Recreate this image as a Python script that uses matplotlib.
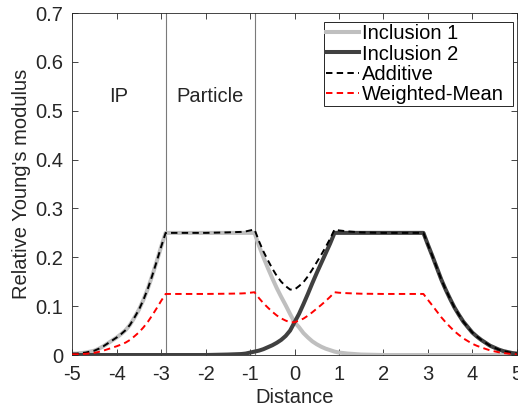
import matplotlib
matplotlib.use("Agg")
import matplotlib.pyplot as plt

plt.rcParams["font.family"] = ["Liberation Sans", "DejaVu Sans"]
plt.rcParams["axes.unicode_minus"] = False

# values
distance = [-5.0, -4.9, -4.8, -4.7, -4.6, -4.5, -4.4, -4.3, -4.2, -4.1, -4.0,
            -3.9, -3.8, -3.7, -3.6, -3.5, -3.4, -3.3, -3.2, -3.1, -3.0, -2.9,
            -2.5, -2.0, -1.5,
            -1.2, -1.1, -1.0, -0.9, -0.8, -0.7, -0.6, -0.5, -0.4, -0.3, -0.2, -0.1, 0.0,
            0.1, 0.2, 0.3, 0.4, 0.5, 0.6, 0.7, 0.8, 0.9, 1.0, 1.1, 1.2,
            1.5, 2.0, 2.5,
            2.9, 3.0, 3.1, 3.2, 3.3, 3.4, 3.5, 3.6, 3.7, 3.8, 3.9, 4.0,
            4.1, 4.2, 4.3, 4.4, 4.5, 4.6, 4.7, 4.8, 4.9, 5.0]

inclusion1 = [0.003, 0.003, 0.004, 0.005, 0.007, 0.009, 0.013, 0.018, 0.024, 0.030, 0.036,
              0.043, 0.051, 0.062, 0.077, 0.093, 0.113, 0.136, 0.163, 0.192, 0.222, 0.250,
              0.25, 0.25, 0.25,
              0.25, 0.25, 0.25, 0.25, 0.224, 0.200, 0.178, 0.157, 0.137, 0.119, 0.102, 0.084, 0.067,
              0.057, 0.045, 0.036, 0.028, 0.022, 0.017, 0.013, 0.010, 0.007, 0.005, 0.004, 0.003,
              0.001, 0, 0,
              0, 0, 0, 0, 0, 0, 0, 0, 0, 0, 0, 0,
              0, 0, 0, 0, 0, 0, 0, 0, 0, 0]

inclusion2 = [0, 0, 0, 0, 0, 0, 0, 0, 0, 0, 0,
              0, 0, 0, 0, 0, 0, 0, 0, 0, 0, 0,
              0, 0, 0.001,
              0.002, 0.003, 0.005, 0.007, 0.009, 0.012, 0.016, 0.020, 0.025, 0.031, 0.039, 0.050, 0.067,
              0.084, 0.104, 0.125, 0.147, 0.168, 0.188, 0.208, 0.228, 0.25, 0.25, 0.25, 0.25,
              0.25, 0.25, 0.25,
              0.250, 0.226, 0.203, 0.179, 0.155, 0.134, 0.115, 0.097, 0.082, 0.068, 0.057, 0.046,
              0.038, 0.031, 0.025, 0.019, 0.015, 0.011, 0.008, 0.006, 0.004, 0.003]

additive = [0.003, 0.003, 0.004, 0.005, 0.007, 0.009, 0.013, 0.018, 0.024, 0.030, 0.036,
            0.043, 0.051, 0.062, 0.077, 0.093, 0.113, 0.136, 0.163, 0.192, 0.222, 0.250,
            0.25, 0.25, 0.251,
            0.252, 0.253, 0.255, 0.257, 0.233, 0.212, 0.194, 0.177, 0.162, 0.150, 0.141, 0.134, 0.134,
            0.141, 0.149, 0.161, 0.175, 0.190, 0.205, 0.221, 0.238, 0.257, 0.255, 0.254, 0.253,
            0.251, 0.25, 0.25,
            0.250, 0.226, 0.203, 0.179, 0.155, 0.134, 0.115, 0.097, 0.082, 0.068, 0.057, 0.046,
            0.038, 0.031, 0.025, 0.019, 0.015, 0.011, 0.008, 0.006, 0.004, 0.003]

weighted_mean = [0.0015, 0.0015, 0.002, 0.0025, 0.0035, 0.0045, 0.0065, 0.009, 0.012, 0.015, 0.018,
                 0.0215, 0.0255, 0.031, 0.0385, 0.0465, 0.0565, 0.068, 0.0815, 0.096, 0.111, 0.125,
                 0.125, 0.125, 0.1255,
                 0.126, 0.1265, 0.1275, 0.1285, 0.1165, 0.106, 0.097, 0.0885, 0.081, 0.075, 0.0705, 0.067, 0.067,
                 0.0705, 0.0745, 0.0805, 0.0875, 0.095, 0.1025, 0.1105, 0.119, 0.1285, 0.1275, 0.127, 0.1265,
                 0.1255, 0.125, 0.125,
                 0.125, 0.113, 0.1015, 0.0895, 0.0775, 0.067, 0.0575, 0.0485, 0.041, 0.034, 0.0285, 0.023,
                 0.019, 0.0155, 0.0125, 0.0095, 0.0075, 0.0055, 0.004, 0.003, 0.002, 0.0015]

boundaries = [-2.9, -0.9]
region_labels = ["IP", "Particle"]
region_x = [-3.95, -1.9]
region_y = 0.53

FS = 14.5
AX_COLOR = "#262626"
DASH = (0, (3.3, 2.2))

fig = plt.figure(figsize=(5.18, 4.12), dpi=100)
ax = fig.add_axes([0.1396, 0.1383, 0.858, 0.8301])

for b in boundaries:
    ax.axvline(b, color="#7a7a7a", lw=0.8, zorder=1)

ax.plot(distance, inclusion1, color="#bfbfbf", lw=2.9, label="Inclusion 1", zorder=2)
ax.plot(distance, inclusion2, color="#404040", lw=2.9, label="Inclusion 2", zorder=3)
ax.plot(distance, additive, color="black", lw=1.4, ls=DASH, label="Additive", zorder=4)
ax.plot(distance, weighted_mean, color="red", lw=1.4, ls=DASH, label="Weighted-Mean", zorder=5)

for lbl, xp in zip(region_labels, region_x):
    ax.text(xp, region_y, lbl, ha="center", va="center", fontsize=FS, color=AX_COLOR)

ax.set_xlim(-5, 5)
ax.set_ylim(0, 0.7)
xt = list(range(-5, 6))
ax.set_xticks(xt)
ax.set_xticklabels([str(v) for v in xt])
yt = [0, 0.1, 0.2, 0.3, 0.4, 0.5, 0.6, 0.7]
ax.set_yticks(yt)
ax.set_yticklabels(["0", "0.1", "0.2", "0.3", "0.4", "0.5", "0.6", "0.7"])
ax.tick_params(direction="in", top=True, right=True, length=4, width=0.6,
               labelsize=FS, colors=AX_COLOR)
ax.tick_params(axis="x", pad=7.5)
ax.tick_params(axis="y", pad=6.5)
for s in ax.spines.values():
    s.set_color(AX_COLOR)
    s.set_linewidth(0.6)

ax.set_xlabel("Distance", fontsize=FS, color=AX_COLOR, labelpad=2.5)
ax.set_ylabel("Relative Young's modulus", fontsize=FS, color=AX_COLOR, labelpad=3)

leg = ax.legend(loc="upper left", bbox_to_anchor=(0.566, 0, 0.4255, 0.974),
                mode="expand", borderaxespad=0, fontsize=FS, frameon=True,
                fancybox=False, handlelength=1.64, handletextpad=0.15,
                labelspacing=0.06, borderpad=0.12)
leg.get_frame().set_edgecolor(AX_COLOR)
leg.get_frame().set_linewidth(0.7)
leg.get_frame().set_alpha(1)

fig.savefig("out.png", dpi=100)
